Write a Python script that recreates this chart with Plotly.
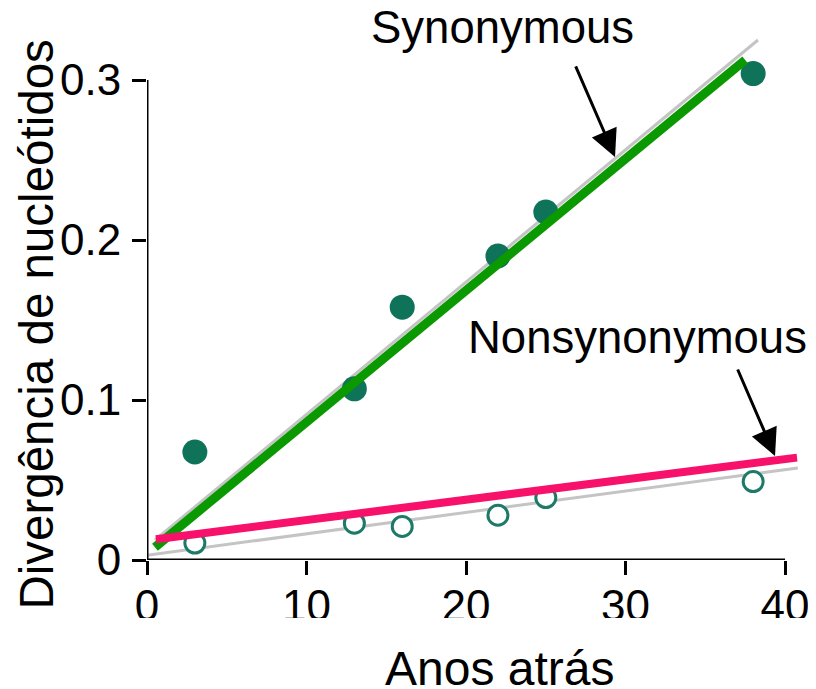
import plotly.graph_objects as go

# Data
years = [3, 13, 16, 22, 25, 38]
synonymous = [0.0675, 0.107, 0.158, 0.190, 0.2175, 0.304]
nonsynonymous = [0.0106, 0.023, 0.021, 0.028, 0.039, 0.049]

# Fitted lines (end points)
syn_fit_x = [0.5, 37.5]
syn_fit_y = [0.008, 0.3125]
syn_gray_x = [0.5, 38.3]
syn_gray_y = [0.0125, 0.325]
non_fit_x = [0.56, 40.75]
non_fit_y = [0.013, 0.064]
non_gray_x = [0.0, 40.8]
non_gray_y = [0.003, 0.0575]

x_ticks = [0, 10, 20, 30, 40]
y_ticks = [0, 0.1, 0.2, 0.3]
y_ticklabels = ["0", "0.1", "0.2", "0.3"]

FONT = "Liberation Sans, Arial, sans-serif"
GRAY = "#c4c4c4"
TEAL = "#0f735a"

fig = go.Figure()
fig.add_trace(go.Scatter(x=syn_gray_x, y=syn_gray_y, mode="lines",
                         line=dict(color=GRAY, width=3), hoverinfo="skip"))
fig.add_trace(go.Scatter(x=non_gray_x, y=non_gray_y, mode="lines",
                         line=dict(color=GRAY, width=3), hoverinfo="skip"))
fig.add_trace(go.Scatter(x=years, y=synonymous, mode="markers",
                         marker=dict(size=25, color=TEAL, line=dict(width=0)),
                         cliponaxis=False))
fig.add_trace(go.Scatter(x=years, y=nonsynonymous, mode="markers",
                         marker=dict(size=20, color="white",
                                     line=dict(color="#1d7a68", width=3)),
                         cliponaxis=False))
fig.add_trace(go.Scatter(x=syn_fit_x, y=syn_fit_y, mode="lines",
                         line=dict(color="#0a9900", width=9)))
fig.add_trace(go.Scatter(x=non_fit_x, y=non_fit_y, mode="lines",
                         line=dict(color="#f7116a", width=8)))

# axis lines
fig.add_shape(type="line", x0=0, x1=40, y0=0, y1=0, xref="x", yref="y",
              line=dict(color="black", width=3), layer="above")
fig.add_shape(type="line", x0=0, x1=0, y0=0, y1=0.3, xref="x", yref="y",
              line=dict(color="black", width=3), layer="above")
# mask cutting off bottom of x tick labels
fig.add_shape(type="rect", xref="paper", yref="paper", x0=-0.3, x1=1.1,
              y0=-0.1098, y1=-0.3, fillcolor="white", line=dict(width=0),
              layer="above")

fig.add_annotation(text="Synonymous", xref="paper", yref="paper",
                   x=0.5363, y=1.0076, xanchor="center", yanchor="middle",
                   showarrow=False,
                   font=dict(size=45.5, color="black", family=FONT))
fig.add_annotation(text="Nonsynonymous", xref="paper", yref="paper",
                   x=0.741, y=0.4205, xanchor="center", yanchor="middle",
                   showarrow=False,
                   font=dict(size=45.5, color="black", family=FONT))
fig.add_annotation(text="", x=29.34, y=0.2519, xref="x", yref="y",
                   ax=-40, ay=-92, showarrow=True, arrowhead=2,
                   arrowwidth=3, arrowsize=1.8, arrowcolor="black")
fig.add_annotation(text="", x=39.37, y=0.065, xref="x", yref="y",
                   ax=-38, ay=-88, showarrow=True, arrowhead=2,
                   arrowwidth=3, arrowsize=1.8, arrowcolor="black")
fig.add_annotation(text="Anos atrás", xref="paper", yref="paper",
                   x=0.533, y=-0.2055, xanchor="center", yanchor="middle",
                   showarrow=False,
                   font=dict(size=48, color="black", family=FONT))
fig.add_annotation(text="Divergência de nucleótidos", xref="paper", yref="paper",
                   x=-0.1669, y=0.445, xanchor="center", yanchor="middle",
                   showarrow=False, textangle=-90,
                   font=dict(size=47.5, color="black", family=FONT))

fig.update_layout(
    width=808, height=681,
    margin=dict(l=139, r=7, t=24, b=129),
    plot_bgcolor="white", paper_bgcolor="white",
    showlegend=False,
    font=dict(family=FONT, color="black"),
)
fig.update_xaxes(range=[0, 41.5], tickvals=x_ticks, ticks="outside", ticklen=14,
                 tickwidth=3, tickcolor="black", showline=False, showgrid=False,
                 zeroline=False, ticklabelstandoff=-7,
                 tickfont=dict(size=44, color="black", family=FONT))
fig.update_yaxes(range=[0, 0.33], tickvals=y_ticks, ticktext=y_ticklabels,
                 ticks="outside", ticklen=14, tickwidth=3, tickcolor="black",
                 showline=False, showgrid=False, zeroline=False,
                 ticklabelstandoff=2,
                 tickfont=dict(size=44, color="black", family=FONT))

fig.write_html("out.html")
